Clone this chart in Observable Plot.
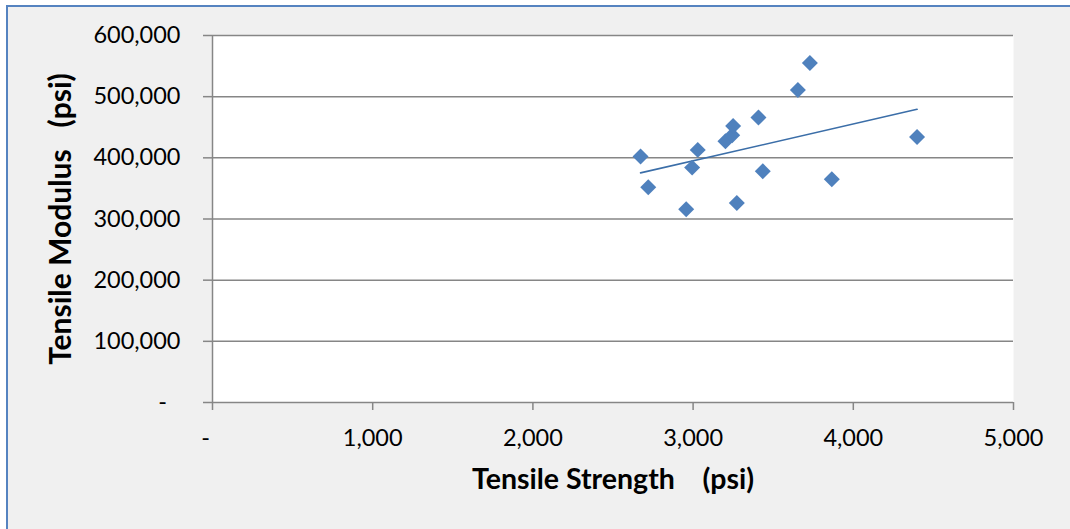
<!DOCTYPE html>
<html>
<head>
<meta charset="utf-8">
<script src="https://cdn.jsdelivr.net/npm/d3@7"></script>
<script src="https://cdn.jsdelivr.net/npm/@observablehq/plot@0.6"></script>
<style>
  html, body { margin: 0; padding: 0; background: #ffffff; }
  #wrap { position: relative; width: 1070px; height: 529px; overflow: hidden; }
  #bg { position: absolute; left: 6px; top: 5px; width: 1100px; height: 560px;
        background: #f0f0f0; border-left: 2px solid #5583c0; border-top: 2px solid #5583c0; }
  #chart { position: absolute; left: 0; top: 0; }
</style>
</head>
<body>
<div id="wrap"><div id="bg"></div><div id="chart"></div></div>
<script>
// Data
const tensileStrength = [2672, 2720, 2957, 2994, 3029, 3202, 3244, 3250, 3273, 3408, 3435, 3654, 3729, 3866, 4398];
const tensileModulus  = [402000, 352000, 316000, 384000, 413000, 427000, 437000, 452000, 326000, 466000, 378000, 511000, 555000, 365000, 434000];
const xTicks = [0, 1000, 2000, 3000, 4000, 5000];
const yTicks = [0, 100000, 200000, 300000, 400000, 500000, 600000];
const xTitle = "Tensile Strength\u00a0\u00a0\u00a0 (psi)";
const yTitle = "Tensile Modulus\u00a0\u00a0 (psi)";

const data = tensileStrength.map((x, i) => ({x, y: tensileModulus[i]}));
const fmt = d => d === 0 ? "-\u2007" : d3.format(",")(d);
const gray = "#868686";

const chart = Plot.plot({
  width: 1070,
  height: 529,
  marginLeft: 212,
  marginRight: 57,
  marginTop: 35,
  marginBottom: 127,
  style: {fontFamily: "Lato, 'Open Sans', sans-serif", fontSize: "23.5px", color: "#000", background: "transparent", overflow: "visible"},
  x: {domain: [0, 5000]},
  y: {domain: [0, 600000]},
  marks: [
    Plot.frame({fill: "white", stroke: "none"}),
    Plot.gridY(yTicks, {stroke: gray, strokeOpacity: 1, strokeWidth: 1.5}),
    Plot.ruleX([0], {stroke: gray, strokeWidth: 1.5}),
    Plot.axisY(yTicks, {tickSize: 9, tickPadding: 23, tickFormat: fmt, stroke: gray, strokeWidth: 1.5, label: null, fontSize: 23.5}),
    Plot.axisX(xTicks, {tickSize: 8, tickPadding: 19, tickFormat: fmt, stroke: gray, strokeWidth: 1.5, label: null, fontSize: 23.5}),
    Plot.linearRegressionY(data, {x: "x", y: "y", ci: 0, stroke: "#3b6ea8", strokeWidth: 1.6}),
    Plot.dot(data, {x: "x", y: "y", symbol: "diamond2", r: 7.2, fill: "#4f81bd", stroke: "none"}),
    Plot.text([xTitle], {frameAnchor: "bottom", textAnchor: "middle", dy: 86, fontWeight: "bold", fontSize: 28.5}),
    Plot.text([yTitle], {frameAnchor: "left", textAnchor: "middle", rotate: -90, dx: -151, fontWeight: "bold", fontSize: 30})
  ]
});
document.getElementById("chart").appendChild(chart);
</script>
</body>
</html>
